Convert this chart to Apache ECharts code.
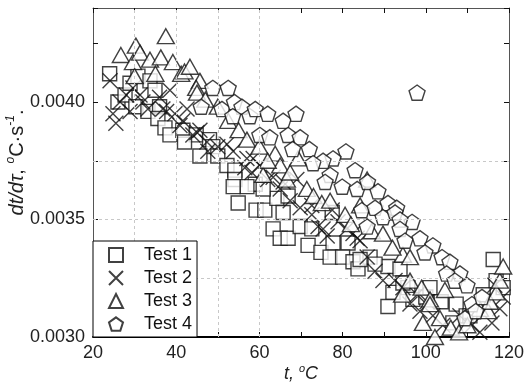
<!DOCTYPE html>
<html>
<head>
<meta charset="utf-8">
<script src="https://cdn.jsdelivr.net/npm/echarts@6/dist/echarts.min.js"></script>
<style>
  html, body { margin: 0; padding: 0; background: #fff; }
  #main { width: 526px; height: 387px; }
</style>
</head>
<body>
<div id="main"></div>
<script>
// [t, dt/dtau] pairs
var test1 = [
  [24, 0.00412], [26, 0.00400], [27.7, 0.00403], [28.9, 0.00408], [30.8, 0.00411],
  [33.7, 0.00409], [34.9, 0.00405], [30.3, 0.00398], [33.2, 0.00396], [36, 0.00398], [35.6, 0.00393],
  [37.3, 0.00389], [38.5, 0.00386], [41.6, 0.00388], [44.8, 0.00386], [48, 0.00384], [42, 0.00383],
  [48.8, 0.00381], [45.7, 0.00377], [50, 0.00377], [52.2, 0.00373], [54.1, 0.00371], [54.1, 0.00367],
  [59, 0.00365], [57, 0.00364], [53.7, 0.00364], [54.9, 0.00357], [59.2, 0.00354], [61.3, 0.00354],
  [64.2, 0.00359], [60.9, 0.00363], [66.9, 0.00360], [65.7, 0.00353], [63.3, 0.00346], [65, 0.00342],
  [66.9, 0.00342], [69.8, 0.00347], [72.6, 0.00346], [71.7, 0.00339], [74.8, 0.00336], [77.7, 0.00340],
  [81.3, 0.00340], [77.5, 0.00353], [77, 0.00334], [80, 0.00334], [82.5, 0.00332], [83.7, 0.00329],
  [86.6, 0.00334], [90.9, 0.00330], [87.8, 0.00331], [84.2, 0.00333], [92.1, 0.00319], [95.7, 0.00321],
  [93.8, 0.00329], [90.9, 0.00313], [94.5, 0.00323], [96.9, 0.00316], [100, 0.00317], [101, 0.00321],
  [103.7, 0.00315], [107.3, 0.00314], [109.7, 0.00309], [106.5, 0.00306], [110.6, 0.00309],
  [113.8, 0.00318], [116.9, 0.00324], [118.6, 0.00321], [116.2, 0.00333]
];
var test2 = [
  [24.1, 0.00409], [24.8, 0.00395], [25.5, 0.00391], [26.5, 0.00400], [28.9, 0.00396], [29.6, 0.00406],
  [28, 0.00403], [31.3, 0.00403], [32, 0.00400], [33.2, 0.00397], [36, 0.00402], [36.8, 0.00397],
  [38.5, 0.00405], [37.7, 0.00396], [39.7, 0.00395], [41.6, 0.00392], [42.6, 0.00397], [40.9, 0.00390],
  [45, 0.00387], [45.7, 0.00388], [44, 0.00386], [47.4, 0.00383], [47.6, 0.00379], [50, 0.00381],
  [52.2, 0.00382], [53.7, 0.00379], [56.5, 0.00372], [57, 0.00376], [58.5, 0.00376], [58.2, 0.00370],
  [60.1, 0.00373], [62, 0.00367], [63.3, 0.00368], [65, 0.00363], [65.7, 0.00366], [67.4, 0.00358],
  [69, 0.00367], [69.8, 0.00355], [72.6, 0.00352], [72.6, 0.00356], [74.1, 0.00347], [75.3, 0.00346],
  [76.3, 0.00343], [77.5, 0.00354], [78.9, 0.00349], [81, 0.00346], [82.5, 0.00344], [83.5, 0.00342],
  [84.2, 0.00341], [85.9, 0.00334], [87.8, 0.00328], [89.7, 0.00324], [92.6, 0.00324], [94.5, 0.00321],
  [96.2, 0.00314], [97.9, 0.00318], [98.6, 0.00311], [100.3, 0.00315], [101.7, 0.00309], [104.1, 0.00305],
  [108.2, 0.00309], [111.1, 0.00305], [113, 0.00302], [115.9, 0.00306], [117.8, 0.00312],
  [118.6, 0.00317], [116.6, 0.00322]
];
var test3 = [
  [26.7, 0.00420], [29.6, 0.00417], [30.3, 0.00424], [31.3, 0.00421], [33.7, 0.00418], [36.3, 0.00419],
  [37.5, 0.00428], [39.2, 0.00417], [41.2, 0.00412], [42, 0.00413], [43.3, 0.00415], [45.7, 0.00409],
  [44.8, 0.00406], [45, 0.00404], [47, 0.00401], [30, 0.00411], [35, 0.00412], [50, 0.00398],
  [52.5, 0.00392], [55, 0.00388], [57, 0.00384], [60, 0.00381], [63.8, 0.00378], [65, 0.00373],
  [60.9, 0.00369], [62, 0.00375], [66.6, 0.00367], [67.4, 0.00370], [69.3, 0.00376], [71.4, 0.00363],
  [73, 0.00360], [75, 0.00357], [77, 0.00358], [80.6, 0.00352], [84.2, 0.00356], [85.9, 0.00367],
  [82, 0.00348], [87, 0.00345], [89.7, 0.00344], [94.5, 0.00335], [96.2, 0.00334], [92, 0.00338],
  [96.2, 0.00324], [99, 0.00321], [94.3, 0.00318], [101, 0.00316], [104.6, 0.00320], [101, 0.00314],
  [103.4, 0.00308], [99.3, 0.00306], [102.2, 0.00300], [106, 0.00304], [108, 0.00302], [110, 0.00305],
  [113, 0.00312], [115, 0.00311], [115.4, 0.00315], [117, 0.00319], [117.8, 0.00324], [118.6, 0.00330]
];
var test4 = [
  [46, 0.00398], [48.8, 0.00406], [52.5, 0.00406], [51, 0.00397], [54, 0.00400], [55.8, 0.00398],
  [57.7, 0.00394], [53.6, 0.00394], [59, 0.00397], [62, 0.00395], [65.7, 0.00392], [68.8, 0.00395],
  [60.1, 0.00386], [62.5, 0.00385], [66.9, 0.00386], [69.8, 0.00385], [68, 0.00380], [72, 0.00380],
  [80.8, 0.00379], [77.7, 0.00376], [75.3, 0.00375], [72.9, 0.00374], [83, 0.00371], [77, 0.00369],
  [79.9, 0.00364], [83.5, 0.00363], [86, 0.00366], [88.5, 0.00362], [75.8, 0.00366], [84.6, 0.00354],
  [87.8, 0.00355], [90.9, 0.00357], [93, 0.00355], [89.7, 0.00351], [92.6, 0.00353], [96.7, 0.00349],
  [93.8, 0.00350], [85.9, 0.00347], [93.8, 0.00346], [95, 0.00341], [98.6, 0.00342], [101.7, 0.00339],
  [99.8, 0.00336], [103.9, 0.00334], [105.8, 0.00332], [108.2, 0.00327], [105, 0.00327], [107, 0.00324],
  [109.9, 0.00322], [111.1, 0.00314], [113.5, 0.00317], [109.4, 0.00308], [112, 0.00311], [97.9, 0.00404]
];
var names = ['Test 1', 'Test 2', 'Test 3', 'Test 4'];
var gridX = [30, 40, 50, 60];
var gridY = [0.00325, 0.0035, 0.00375];
var xMin = 20, xMax = 120, yMin = 0.003, yMax = 0.0044;

var FONT = '"Liberation Sans", Arial, sans-serif';
var INK = '#111';
var crossPath = 'path://M0,0L10,10M10,0L0,10';
var pentPath = 'path://M10,0L19.51,6.91L15.88,18.09L4.12,18.09L0.49,6.91Z';

function markStyle() {
  return { color: '#fff', borderColor: INK, borderWidth: 1.4 };
}

// dashed reference lines, given in data units
var gridLines = gridX.map(function (x) {
  return [{ coord: [x, yMin] }, { coord: [x, yMax] }];
}).concat(gridY.map(function (y) {
  return [{ coord: [xMin, y] }, { coord: [xMax, y] }];
}));

var chart = echarts.init(document.getElementById('main'));
chart.setOption({
  animation: false,
  backgroundColor: '#fff',
  textStyle: { fontFamily: FONT },
  grid: { left: 93, right: 17, top: 8, bottom: 50, outerBoundsMode: 'none', containLabel: false },
  legend: {
    data: names,
    orient: 'vertical',
    left: 93,
    top: 241,
    padding: [4, 5, 3, 15],
    itemGap: 3,
    itemWidth: 14,
    itemHeight: 14,
    backgroundColor: '#fff',
    borderColor: '#000',
    borderWidth: 1,
    borderRadius: 0,
    z: 10,
    textStyle: { fontSize: 18, color: '#111', fontFamily: FONT, lineHeight: 20, padding: [0, 0, 0, 16] }
  },
  xAxis: [{
    type: 'value', min: xMin, max: xMax, interval: 10,
    name: '{i|t, }{s|o}{i|C}', nameLocation: 'middle', nameGap: 26, nameMoveOverlap: false,
    nameTextStyle: {
      rich: {
        i: { fontSize: 18, fontStyle: 'italic', color: '#222', fontFamily: FONT, lineHeight: 22 },
        s: { fontSize: 11, fontStyle: 'italic', color: '#222', fontFamily: FONT, verticalAlign: 'top', lineHeight: 22 }
      }
    },
    axisLine: { lineStyle: { color: '#000', width: 2 } },
    axisTick: { inside: true, length: 5, lineStyle: { color: INK } },
    axisLabel: {
      fontSize: 18, color: '#222', margin: 7, fontFamily: FONT,
      formatter: function (v) { return v % 20 === 0 ? String(v) : ''; }
    },
    splitLine: { show: false }
  }, {
    type: 'value', min: xMin, max: xMax, interval: 10, position: 'top',
    axisLine: { lineStyle: { color: '#555', width: 1 } },
    axisTick: { inside: true, length: 5, lineStyle: { color: INK } },
    axisLabel: { show: false },
    splitLine: { show: false }
  }],
  yAxis: [{
    type: 'value', min: yMin, max: yMax, interval: 0.00025,
    name: '{i|dt/dτ}{n|, }{s|o}{n|C·s}{s|-1}{n|.}', nameLocation: 'middle', nameGap: 64, nameMoveOverlap: false,
    nameTextStyle: {
      padding: [0, 0, 0, 20],
      rich: {
        i: { fontSize: 20, fontStyle: 'italic', color: '#222', fontFamily: FONT, lineHeight: 24 },
        n: { fontSize: 20, color: '#222', fontFamily: FONT, lineHeight: 24 },
        s: { fontSize: 12, fontStyle: 'italic', color: '#222', fontFamily: FONT, verticalAlign: 'top', lineHeight: 24 }
      }
    },
    axisLine: { lineStyle: { color: '#555', width: 1 } },
    axisTick: { inside: true, length: 5, lineStyle: { color: INK } },
    axisLabel: {
      fontSize: 18, color: '#222', margin: 8, fontFamily: FONT,
      formatter: function (v) {
        var k = v * 2000;
        return Math.abs(k - Math.round(k)) < 1e-6 ? v.toFixed(4) : '';
      }
    },
    splitLine: { show: false }
  }, {
    type: 'value', min: yMin, max: yMax, interval: 0.00025, position: 'right',
    axisLine: { lineStyle: { color: '#555', width: 1 } },
    axisTick: { inside: true, length: 5, lineStyle: { color: INK } },
    axisLabel: { show: false },
    splitLine: { show: false }
  }],
  series: [{
    // dashed grid lines only, no marks
    type: 'scatter', name: 'grid', data: [], z: 0, silent: true,
    markLine: {
      silent: true, symbol: 'none', label: { show: false },
      lineStyle: { type: [3, 3], color: '#c8c8c8', width: 1 },
      data: gridLines
    }
  }, {
    name: names[0], type: 'scatter', data: test1, z: 3,
    symbol: 'rect', symbolSize: 14, itemStyle: markStyle()
  }, {
    name: names[1], type: 'scatter', data: test2, z: 3,
    symbol: crossPath, symbolSize: 15, itemStyle: markStyle()
  }, {
    name: names[2], type: 'scatter', data: test3, z: 3,
    symbol: 'triangle', symbolSize: [17, 15], itemStyle: markStyle()
  }, {
    name: names[3], type: 'scatter', data: test4, z: 3,
    symbol: pentPath, symbolSize: 16, symbolKeepAspect: true, itemStyle: markStyle()
  }]
});
</script>
</body>
</html>
